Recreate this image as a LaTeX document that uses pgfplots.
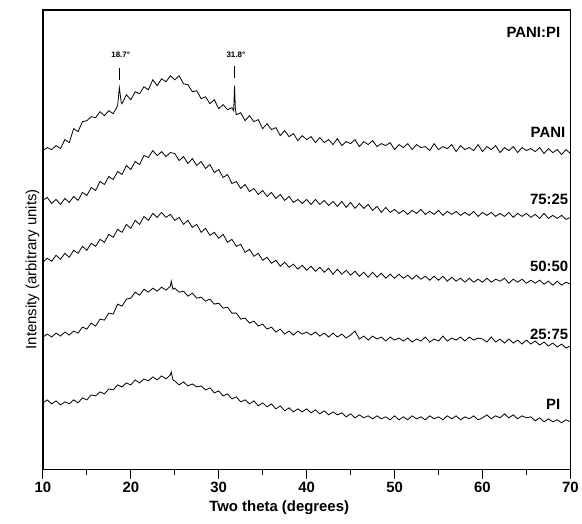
\documentclass[border=0pt]{standalone}
\usepackage{pgfplots}
\pgfplotsset{compat=1.18}
\usepackage{fontspec}
\setmainfont{Liberation Sans}
\begin{document}
\begin{tikzpicture}
\begin{axis}[
  scale only axis,
  width=529bp, height=461bp,
  xmin=10, xmax=70, ymin=0, ymax=461,
  xtick={10,20,30,40,50,60,70},
  xticklabels={10,20,30,40,50,60,70},
  minor x tick num=1,
  ytick=\empty,
  tick align=outside,
  xtick pos=bottom,
  major tick length=9bp,
  minor tick length=5bp,
  every tick/.style={black, line width=1.2bp},
  axis line style={line width=1.6bp},
  xticklabel style={font=\fontsize{15}{15}\selectfont\bfseries},
  xlabel={Two theta (degrees)},
  xlabel style={font=\fontsize{15}{15}\selectfont\bfseries, at={(ticklabel cs:0.448)}, anchor=north, yshift=-1bp},
  ylabel={Intensity (arbitrary units)},
  ylabel style={font=\fontsize{15}{15}\selectfont, at={(axis description cs:0,0.475)}, anchor=south, xshift=-18bp},
  clip=false,
]
% PANI
\addplot[black, line width=0.8bp] coordinates {(10,320)(10.5,323)(11,321)(11.5,325)(12,322)(12.5,331)(13,328)(13.5,342)(14,339)(14.5,349)(15,350)(15.5,354)(16,353)(16.5,359)(17,355)(17.5,360)(18,357)(18.5,365)(18.7,383)(18.9,369)(19,367)(19.5,376)(20,371)(20.5,379)(21,377)(21.5,384)(22,381)(22.5,391)(23,385)(23.5,392)(24,389)(24.5,395)(25,391)(25.5,395)(26,387)(26.5,386)(27,379)(27.5,380)(28,372)(28.5,374)(29,367)(29.5,371)(30,362)(30.5,366)(31,361)(31.5,363)(31.7,360)(31.8,385)(31.9,361)(32,356)(32.5,358)(33,350)(33.5,355)(34,349)(34.5,351)(35,342)(35.5,347)(36,341)(36.5,343)(37,335)(37.5,340)(38,334)(38.5,337)(39,330)(39.5,335)(40,331)(40.5,334)(41,328)(41.5,333)(42,328)(42.5,331)(43,326)(43.5,332)(44,325)(44.5,329)(45,327)(45.5,331)(46,324)(46.5,329)(47,326)(47.5,330)(48,324)(48.5,327)(49,325)(49.5,328)(50,321)(50.5,326)(51,323)(51.5,327)(52,321)(52.5,326)(53,323)(53.5,324)(54,320)(54.5,327)(55,321)(55.5,324)(56,322)(56.5,326)(57,319)(57.5,325)(58,321)(58.5,323)(59,320)(59.5,326)(60,319)(60.5,324)(61,321)(61.5,325)(62,318)(62.5,323)(63,320)(63.5,324)(64,318)(64.5,323)(65,320)(65.5,322)(66,319)(66.5,323)(67,317)(67.5,322)(68,318)(68.5,321)(69,316)(69.5,321)(70,317)};
% 75:25
\addplot[black, line width=0.8bp] coordinates {(10,270)(10.5,273)(11,267)(11.5,271)(12,266)(12.5,272)(13,268)(13.5,274)(14,270)(14.5,278)(15,275)(15.5,283)(16,280)(16.5,289)(17,286)(17.5,294)(18,291)(18.5,299)(19,296)(19.5,305)(20,301)(20.5,309)(21,306)(21.5,315)(22,313)(22.5,320)(23,315)(23.5,319)(24,314)(24.5,318)(25,317)(25.5,310)(26,314)(26.5,307)(27,312)(27.5,305)(28,309)(28.5,302)(29,306)(29.5,298)(30,301)(30.5,293)(31,296)(31.5,287)(32,289)(32.5,282)(33,286)(33.5,279)(34,282)(34.5,276)(35,280)(35.5,274)(36,278)(36.5,272)(37,276)(37.5,270)(38,274)(38.5,268)(39,271)(39.5,267)(40,271)(40.5,266)(41,271)(41.5,266)(42,270)(42.5,265)(43,269)(43.5,264)(44,269)(44.5,263)(45,268)(45.5,262)(46,267)(46.5,262)(47,266)(47.5,260)(48,264)(48.5,258)(49,263)(49.5,258)(50,261)(50.5,257)(51,260)(51.5,256)(52,260)(52.5,257)(53,261)(53.5,256)(54,259)(54.5,256)(55,260)(55.5,255)(56,259)(56.5,256)(57,259)(57.5,255)(58,258)(58.5,255)(59,259)(59.5,254)(60,258)(60.5,255)(61,258)(61.5,254)(62,257)(62.5,254)(63,258)(63.5,253)(64,257)(64.5,254)(65,257)(65.5,253)(66,256)(66.5,252)(67,257)(67.5,252)(68,255)(68.5,252)(69,255)(69.5,251)(70,253)};
% 50:50
\addplot[black, line width=0.8bp] coordinates {(10,208)(10.5,212)(11,209)(11.5,215)(12,211)(12.5,217)(13,213)(13.5,220)(14,217)(14.5,224)(15,220)(15.5,227)(16,224)(16.5,231)(17,228)(17.5,236)(18,233)(18.5,241)(19,238)(19.5,246)(20,242)(20.5,250)(21,246)(21.5,254)(22,250)(22.5,257)(23,253)(23.5,258)(24,253)(24.5,256)(25,250)(25.5,253)(26,246)(26.5,250)(27,243)(27.5,246)(28,238)(28.5,242)(29,235)(29.5,238)(30,232)(30.5,236)(31,228)(31.5,231)(32,224)(32.5,226)(33,218)(33.5,221)(34,214)(34.5,217)(35,210)(35.5,213)(36,207)(36.5,210)(37,204)(37.5,208)(38,203)(38.5,206)(39,201)(39.5,205)(40,200)(40.5,204)(41,199)(41.5,203)(42,198)(42.5,202)(43,196)(43.5,201)(44,196)(44.5,200)(45,195)(45.5,199)(46,194)(46.5,198)(47,193)(47.5,198)(48,193)(48.5,197)(49,192)(49.5,196)(50,192)(50.5,196)(51,192)(51.5,195)(52,191)(52.5,195)(53,191)(53.5,194)(54,190)(54.5,194)(55,190)(55.5,194)(56,189)(56.5,193)(57,189)(57.5,192)(58,188)(58.5,192)(59,188)(59.5,191)(60,188)(60.5,192)(61,188)(61.5,191)(62,189)(62.5,192)(63,187)(63.5,191)(64,188)(64.5,191)(65,187)(65.5,190)(66,187)(66.5,190)(67,186)(67.5,189)(68,185)(68.5,189)(69,185)(69.5,188)(70,186)};
% 25:75
\addplot[black, line width=0.8bp] coordinates {(10,133)(10.5,136)(11,133)(11.5,137)(12,134)(12.5,138)(13,135)(13.5,139)(14,137)(14.5,143)(15,141)(15.5,147)(16,144)(16.5,151)(17,150)(17.5,157)(18,156)(18.5,166)(19,164)(19.5,171)(20,172)(20.5,178)(21,175)(21.5,181)(22,178)(22.5,182)(23,179)(23.5,183)(24,180)(24.5,184)(24.6,189)(24.8,181)(25,182)(25.5,178)(26,179)(26.5,174)(27,177)(27.5,172)(28,173)(28.5,169)(29,171)(29.5,166)(30,167)(30.5,162)(31,163)(31.5,157)(32,157)(32.5,151)(33,152)(33.5,147)(34,149)(34.5,144)(35,146)(35.5,141)(36,143)(36.5,138)(37,141)(37.5,136)(38,139)(38.5,135)(39,139)(39.5,136)(40,138)(40.5,135)(41,138)(41.5,134)(42,137)(42.5,133)(43,137)(43.5,133)(44,136)(44.5,132)(45,135)(45.5,139)(46,131)(46.5,134)(47,130)(47.5,134)(48,131)(48.5,133)(49,129)(49.5,133)(50,130)(50.5,132)(51,129)(51.5,132)(52,128)(52.5,131)(53,129)(53.5,133)(54,128)(54.5,131)(55,129)(55.5,134)(56,129)(56.5,132)(57,130)(57.5,133)(58,129)(58.5,133)(59,130)(59.5,132)(60,131)(60.5,128)(61,133)(61.5,128)(62,131)(62.5,127)(63,131)(63.5,127)(64,130)(64.5,126)(65,130)(65.5,126)(66,129)(66.5,125)(67,128)(67.5,124)(68,127)(68.5,123)(69,126)(69.5,122)(70,124)};
% PI
\addplot[black, line width=0.8bp] coordinates {(10,67)(10.5,70)(11,66)(11.5,69)(12,65)(12.5,68)(13,66)(13.5,70)(14,67)(14.5,72)(15,70)(15.5,75)(16,74)(16.5,78)(17,76)(17.5,81)(18,80)(18.5,85)(19,83)(19.5,87)(20,85)(20.5,90)(21,87)(21.5,91)(22,89)(22.5,93)(23,90)(23.5,94)(24,91)(24.5,95)(24.6,98)(24.8,90)(25,89)(25.5,85)(26,88)(26.5,84)(27,86)(27.5,83)(28,84)(28.5,80)(29,82)(29.5,77)(30,79)(30.5,74)(31,76)(31.5,71)(32,73)(32.5,68)(33,70)(33.5,66)(34,69)(34.5,64)(35,67)(35.5,63)(36,66)(36.5,61)(37,64)(37.5,59)(38,62)(38.5,58)(39,61)(39.5,58)(40,61)(40.5,57)(41,60)(41.5,56)(42,59)(42.5,55)(43,58)(43.5,55)(44,57)(44.5,53)(45,56)(45.5,52)(46,55)(46.5,52)(47,54)(47.5,51)(48,54)(48.5,51)(49,53)(49.5,50)(50,54)(50.5,50)(51,53)(51.5,50)(52,54)(52.5,51)(53,53)(53.5,50)(54,54)(54.5,51)(55,53)(55.5,50)(56,54)(56.5,51)(57,54)(57.5,50)(58,53)(58.5,51)(59,54)(59.5,50)(60,52)(60.5,55)(61,51)(61.5,54)(62,52)(62.5,56)(63,52)(63.5,55)(64,51)(64.5,54)(65,52)(65.5,53)(66,49)(66.5,52)(67,48)(67.5,51)(68,48)(68.5,50)(69,47)(69.5,50)(70,48)};
% peak markers
\draw[line width=0.8bp] (axis cs:18.7,391) -- (axis cs:18.7,403);
\draw[line width=0.8bp] (axis cs:31.8,393) -- (axis cs:31.8,405);
\node[font=\fontsize{8}{8}\selectfont\bfseries] at (axis cs:18.85,416) {18.7°};
\node[font=\fontsize{8}{8}\selectfont\bfseries] at (axis cs:31.95,416) {31.8°};
% labels
\node[font=\fontsize{15}{15}\selectfont\bfseries, anchor=east, inner sep=0pt] at (axis cs:68.86,439) {PANI:PI};
\node[font=\fontsize{15}{15}\selectfont\bfseries, anchor=east, inner sep=0pt] at (axis cs:69.43,338) {PANI};
\node[font=\fontsize{15}{15}\selectfont\bfseries, anchor=east, inner sep=0pt] at (axis cs:69.77,271) {75:25};
\node[font=\fontsize{15}{15}\selectfont\bfseries, anchor=east, inner sep=0pt] at (axis cs:69.77,204) {50:50};
\node[font=\fontsize{15}{15}\selectfont\bfseries, anchor=east, inner sep=0pt] at (axis cs:69.77,136) {25:75};
\node[font=\fontsize{15}{15}\selectfont\bfseries, anchor=east, inner sep=0pt] at (axis cs:68.86,65) {PI};
\end{axis}
\path (current axis.south west) ++(-43bp,-54bp) coordinate (bbA);
\path (current axis.north east) ++(10bp,10bp) coordinate (bbB);
\path (bbA) rectangle (bbB);
\end{tikzpicture}
\end{document}
